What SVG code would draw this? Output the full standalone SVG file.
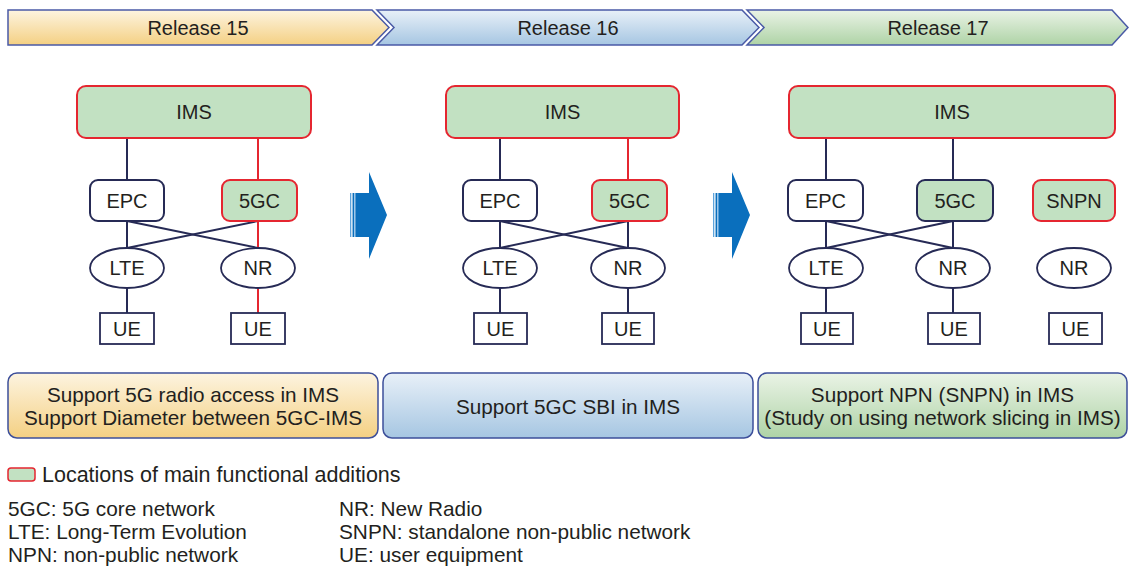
<svg xmlns="http://www.w3.org/2000/svg" width="1129" height="568" viewBox="0 0 1129 568">
  <defs>
    <linearGradient id="gOrange" x1="0" y1="0" x2="0" y2="1">
      <stop offset="0" stop-color="#fdf4e0"/>
      <stop offset="1" stop-color="#f4d083"/>
    </linearGradient>
    <linearGradient id="gBlue" x1="0" y1="0" x2="0" y2="1">
      <stop offset="0" stop-color="#e8f0f8"/>
      <stop offset="1" stop-color="#a6c6e2"/>
    </linearGradient>
    <linearGradient id="gGreen" x1="0" y1="0" x2="0" y2="1">
      <stop offset="0" stop-color="#eaf3e6"/>
      <stop offset="1" stop-color="#aed3a6"/>
    </linearGradient>
    <g id="bigArrow">
      <rect x="0" y="21" width="1.4" height="44" fill="#5ea4dc"/>
      <rect x="1.4" y="21" width="1.2" height="44" fill="#d8e9f6"/>
      <rect x="2.6" y="21" width="1.6" height="44" fill="#0a6fbd"/>
      <rect x="4.2" y="21" width="1.2" height="44" fill="#8fc0e8"/>
      <rect x="5.4" y="21" width="0.8" height="44" fill="#0a6fbd"/>
      <polygon points="6,21 19,21 19,0 37,43 19,87 19,65 6,65" fill="#0a6fbd"/>
    </g>
  </defs>
  <style>
    text { font-family: "Liberation Sans", Arial, sans-serif; fill: #231f20; }
    .lbl { font-size: 20px; text-anchor: middle; }
    .sum { font-size: 20.7px; text-anchor: middle; }
    .leg { font-size: 20.8px; }
    .banner { stroke: #4a5aa6; stroke-width: 1.5; }
    .note { stroke: #3d4f9a; stroke-width: 1.5; }
    .plain { fill: #ffffff; stroke: #262a55; stroke-width: 2; }
    .added { fill: #c2e1c2; stroke: #e52630; stroke-width: 2; }
    .addedN { fill: #c2e1c2; stroke: #262a55; stroke-width: 2; }
    .ue { fill: #ffffff; stroke: #262a55; stroke-width: 1.8; }
    .ln { stroke: #262a55; stroke-width: 2; fill: none; }
    .lnR { stroke: #e52630; stroke-width: 2; fill: none; }
  </style>

  <!-- release timeline banners -->
  <g id="release15">
    <polygon class="banner" points="8,10 372,10 389,27.5 372,45 8,45" fill="url(#gOrange)"/>
    <text class="lbl" x="198" y="35">Release 15</text>
  </g>
  <g id="release16">
    <polygon class="banner" points="377,10 742,10 759,27.5 742,45 377,45 394,27.5" fill="url(#gBlue)"/>
    <text class="lbl" x="568" y="35">Release 16</text>
  </g>
  <g id="release17">
    <polygon class="banner" points="747,10 1112,10 1128,27.5 1112,45 747,45 764,27.5" fill="url(#gGreen)"/>
    <text class="lbl" x="938" y="35">Release 17</text>
  </g>

  <!-- connectors -->
  <g id="connectors">
    <!-- Release 15 -->
    <line class="ln" x1="127" y1="138" x2="127" y2="180"/>
    <line class="lnR" x1="258" y1="138" x2="258" y2="180"/>
    <line class="ln" x1="127" y1="221" x2="127" y2="248"/>
    <line class="ln" x1="127" y1="221" x2="258" y2="248"/>
    <line class="ln" x1="258" y1="221" x2="127" y2="248"/>
    <line class="lnR" x1="258" y1="221" x2="258" y2="248"/>
    <line class="ln" x1="127" y1="288" x2="127" y2="313"/>
    <line class="lnR" x1="258" y1="288" x2="258" y2="313"/>
    <!-- Release 16 -->
    <line class="ln" x1="500" y1="138" x2="500" y2="180"/>
    <line class="lnR" x1="628" y1="138" x2="628" y2="180"/>
    <line class="ln" x1="500" y1="221" x2="500" y2="248"/>
    <line class="ln" x1="500" y1="221" x2="628" y2="248"/>
    <line class="ln" x1="628" y1="221" x2="500" y2="248"/>
    <line class="ln" x1="628" y1="221" x2="628" y2="248"/>
    <line class="ln" x1="500" y1="288" x2="500" y2="313"/>
    <line class="ln" x1="628" y1="288" x2="628" y2="313"/>
    <!-- Release 17 -->
    <line class="ln" x1="826" y1="138" x2="826" y2="180"/>
    <line class="ln" x1="953" y1="138" x2="953" y2="180"/>
    <line class="ln" x1="826" y1="221" x2="826" y2="248"/>
    <line class="ln" x1="826" y1="221" x2="953" y2="248"/>
    <line class="ln" x1="953" y1="221" x2="826" y2="248"/>
    <line class="ln" x1="953" y1="221" x2="953" y2="248"/>
    <line class="ln" x1="826" y1="288" x2="826" y2="313"/>
    <line class="ln" x1="953" y1="288" x2="953" y2="313"/>
  </g>

  <!-- Release 15 nodes -->
  <g id="r15-ims"><rect class="added" x="77" y="86" width="234" height="52" rx="9"/><text class="lbl" x="194" y="119">IMS</text></g>
  <g id="r15-epc"><rect class="plain" x="90" y="180" width="74" height="41" rx="8"/><text class="lbl" x="127" y="208">EPC</text></g>
  <g id="r15-5gc"><rect class="added" x="222" y="180" width="75" height="41" rx="8"/><text class="lbl" x="259.5" y="208">5GC</text></g>
  <g id="r15-lte"><ellipse class="ue" cx="127" cy="268" rx="37" ry="20"/><text class="lbl" x="127" y="275">LTE</text></g>
  <g id="r15-nr"><ellipse class="ue" cx="258" cy="268" rx="37" ry="20"/><text class="lbl" x="258" y="275">NR</text></g>
  <g id="r15-ue1"><rect class="ue" x="100" y="313" width="54" height="31"/><text class="lbl" x="127" y="336">UE</text></g>
  <g id="r15-ue2"><rect class="ue" x="231" y="313" width="54" height="31"/><text class="lbl" x="258" y="336">UE</text></g>

  <!-- Release 16 nodes -->
  <g id="r16-ims"><rect class="added" x="446" y="86" width="233" height="52" rx="9"/><text class="lbl" x="562.5" y="119">IMS</text></g>
  <g id="r16-epc"><rect class="plain" x="463" y="180" width="74" height="41" rx="8"/><text class="lbl" x="500" y="208">EPC</text></g>
  <g id="r16-5gc"><rect class="added" x="592" y="180" width="75" height="41" rx="8"/><text class="lbl" x="629.5" y="208">5GC</text></g>
  <g id="r16-lte"><ellipse class="ue" cx="500" cy="268" rx="37" ry="20"/><text class="lbl" x="500" y="275">LTE</text></g>
  <g id="r16-nr"><ellipse class="ue" cx="628" cy="268" rx="37" ry="20"/><text class="lbl" x="628" y="275">NR</text></g>
  <g id="r16-ue1"><rect class="ue" x="474" y="313" width="53" height="31"/><text class="lbl" x="500.5" y="336">UE</text></g>
  <g id="r16-ue2"><rect class="ue" x="602" y="313" width="52" height="31"/><text class="lbl" x="628" y="336">UE</text></g>

  <!-- Release 17 nodes -->
  <g id="r17-ims"><rect class="added" x="789" y="86" width="326" height="52" rx="9"/><text class="lbl" x="952" y="119">IMS</text></g>
  <g id="r17-epc"><rect class="plain" x="788" y="180" width="75" height="41" rx="8"/><text class="lbl" x="825.5" y="208">EPC</text></g>
  <g id="r17-5gc"><rect class="addedN" x="917" y="180" width="76" height="41" rx="8"/><text class="lbl" x="955" y="208">5GC</text></g>
  <g id="r17-snpn"><rect class="added" x="1033" y="180" width="82" height="41" rx="8"/><text class="lbl" x="1074" y="208">SNPN</text></g>
  <g id="r17-lte"><ellipse class="ue" cx="826" cy="268" rx="37" ry="20"/><text class="lbl" x="826" y="275">LTE</text></g>
  <g id="r17-nr"><ellipse class="ue" cx="953" cy="268" rx="37" ry="20"/><text class="lbl" x="953" y="275">NR</text></g>
  <g id="r17-nr2"><ellipse class="ue" cx="1074" cy="268" rx="37" ry="20"/><text class="lbl" x="1074" y="275">NR</text></g>
  <g id="r17-ue1"><rect class="ue" x="801" y="313" width="52" height="31"/><text class="lbl" x="827" y="336">UE</text></g>
  <g id="r17-ue2"><rect class="ue" x="928" y="313" width="52" height="31"/><text class="lbl" x="954" y="336">UE</text></g>
  <g id="r17-ue3"><rect class="ue" x="1049" y="313" width="53" height="31"/><text class="lbl" x="1075.5" y="336">UE</text></g>

  <!-- progression arrows -->
  <g id="arrow1"><use href="#bigArrow" x="350" y="172"/></g>
  <g id="arrow2"><use href="#bigArrow" x="713" y="172"/></g>

  <!-- summary boxes -->
  <g id="summary15">
    <rect class="note" x="8" y="373" width="370" height="65" rx="9" fill="url(#gOrange)"/>
    <text class="sum" x="193" y="402">Support 5G radio access in IMS</text>
    <text class="sum" x="193" y="425">Support Diameter between 5GC-IMS</text>
  </g>
  <g id="summary16">
    <rect class="note" x="383" y="373" width="370" height="65" rx="9" fill="url(#gBlue)"/>
    <text class="sum" x="568" y="414">Support 5GC SBI in IMS</text>
  </g>
  <g id="summary17">
    <rect class="note" x="758" y="373" width="369" height="65" rx="9" fill="url(#gGreen)"/>
    <text class="sum" x="942.5" y="402">Support NPN (SNPN) in IMS</text>
    <text class="sum" x="942.5" y="425">(Study on using network slicing in IMS)</text>
  </g>

  <!-- legend -->
  <g id="legend">
    <rect x="8" y="468" width="27" height="13" rx="3" fill="#c2e1c2" stroke="#e52630" stroke-width="1.5"/>
    <text class="leg" x="42" y="482" style="font-size:21.5px">Locations of main functional additions</text>
    <text class="leg" x="8" y="516">5GC: 5G core network</text>
    <text class="leg" x="8" y="539">LTE: Long-Term Evolution</text>
    <text class="leg" x="8" y="562">NPN: non-public network</text>
    <text class="leg" x="339" y="516">NR: New Radio</text>
    <text class="leg" x="339" y="539">SNPN: standalone non-public network</text>
    <text class="leg" x="339" y="562">UE: user equipment</text>
  </g>
</svg>
